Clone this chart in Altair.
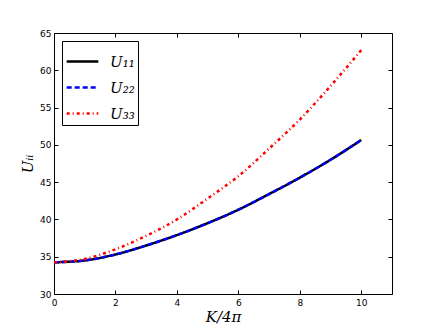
import altair as alt
import pandas as pd

k_vals = [0, 1, 2, 3, 4, 5, 6, 7, 8, 9, 10]
u11 = [34.25, 34.5, 35.3, 36.5, 37.9, 39.5, 41.3, 43.4, 45.6, 48.0, 50.65]
u22 = [34.25, 34.5, 35.3, 36.5, 37.9, 39.5, 41.3, 43.4, 45.6, 48.0, 50.65]
u33 = [34.25, 34.7, 36.0, 37.8, 40.0, 42.8, 45.8, 49.5, 53.4, 57.9, 62.7]
series = ["U₁₁", "U₂₂", "U₃₃"]
colors = ["black", "blue", "red"]
dashes = [[1, 0], [5, 3], [3, 3, 1, 3]]
x_ticks = [0, 2, 4, 6, 8, 10]
y_ticks = [30, 35, 40, 45, 50, 55, 60, 65]

rows = []
for name, vals in zip(series, [u11, u22, u33]):
    for kk, v in zip(k_vals, vals):
        rows.append({"k": kk, "u": v, "s": name})
df = pd.DataFrame(rows)

W, H = 338, 261
xs = alt.Scale(domain=[0, 11], nice=False, zero=False)
ys = alt.Scale(domain=[30, 65], nice=False, zero=False)

leg = dict(title=None, orient="top-left", offset=8,
           symbolType="stroke", symbolSize=1000, symbolStrokeWidth=2.5,
           labelFont="DejaVu Serif", labelFontStyle="italic",
           labelFontSize=15, labelColor="black", rowPadding=-7,
           padding=3, strokeColor="black", fillColor="white",
           labelOffset=10)

lines = alt.Chart(df).mark_line(strokeWidth=2.5, interpolate="monotone").encode(
    x=alt.X("k:Q", scale=xs, axis=alt.Axis(values=x_ticks, title="K/4π", tickSize=0,
            labelPadding=4, labelFontSize=9, labelFont="DejaVu Sans", labelColor="black",
            titleFont="DejaVu Serif", titleFontStyle="italic", titleFontWeight="normal",
            titleFontSize=15, titlePadding=2, domain=False, grid=False, labelFlush=False)),
    y=alt.Y("u:Q", scale=ys, axis=alt.Axis(values=y_ticks, title="Uᵢᵢ", tickSize=0,
            labelPadding=3, labelFontSize=9, labelFont="DejaVu Sans", labelColor="black",
            titleFont="DejaVu Serif", titleFontStyle="italic", titleFontWeight="normal",
            titleFontSize=15, titlePadding=4, domain=False, grid=False, labelFlush=False)),
    color=alt.Color("s:N", scale=alt.Scale(domain=series, range=colors), sort=series,
                    legend=alt.Legend(**leg)),
    strokeDash=alt.StrokeDash("s:N", scale=alt.Scale(domain=series, range=dashes), sort=series,
                              legend=alt.Legend(**leg)),
)

ticks_in_a = alt.Chart(df).mark_point(opacity=0).encode(
    x=alt.X("k:Q", scale=xs, axis=alt.Axis(orient="top", offset=-H, values=x_ticks, labels=False,
            title=None, domain=False, grid=False, tickSize=4, tickColor="black")),
    y=alt.Y("u:Q", scale=ys, axis=alt.Axis(orient="right", offset=-W, values=y_ticks, labels=False,
            title=None, domain=False, grid=False, tickSize=4, tickColor="black")),
)
ticks_in_b = alt.Chart(df).mark_point(opacity=0).encode(
    x=alt.X("k:Q", scale=xs, axis=alt.Axis(orient="bottom", offset=-H, values=x_ticks, labels=False,
            title=None, domain=False, grid=False, tickSize=4, tickColor="black")),
    y=alt.Y("u:Q", scale=ys, axis=alt.Axis(orient="left", offset=-W, values=y_ticks, labels=False,
            title=None, domain=False, grid=False, tickSize=4, tickColor="black")),
)

chart = alt.layer(lines, ticks_in_a, ticks_in_b).resolve_axis(
    x="independent", y="independent"
).properties(
    width=W, height=H,
    autosize=alt.AutoSizeParams(type="none"),
    padding={"left": 46, "top": 25, "right": 30, "bottom": 33},
).configure_view(stroke="black", strokeWidth=1)

chart.save("out.html", embed_options={"renderer": "svg", "actions": False})
